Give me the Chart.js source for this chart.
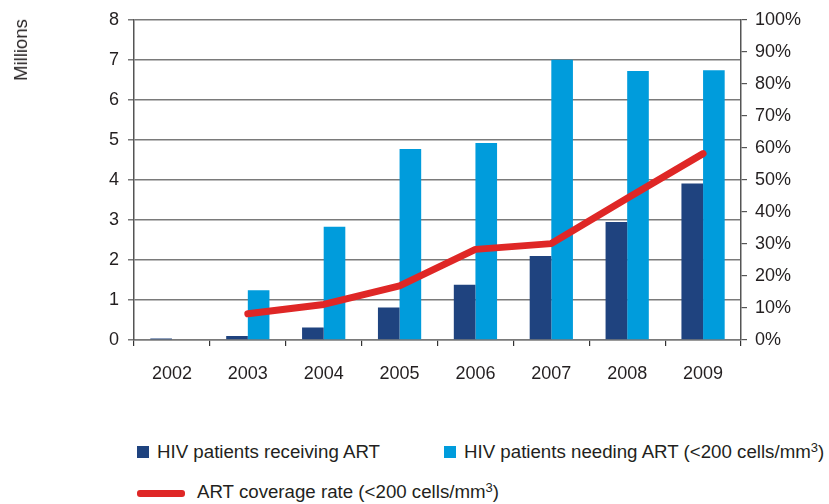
<!DOCTYPE html>
<html lang="en">
<head>
    <meta charset="UTF-8">
    <title>ART coverage</title>
    <style>
        body {
            margin: 0;
            padding: 0;
            background: white;
            font-family: "Liberation Sans", Arial, Helvetica, sans-serif;
            color: #231f20;
        }
        .wrap {
            position: relative;
            width: 829px;
            height: 504px;
        }
        .ytitle {
            position: absolute;
            left: 21px;
            top: 50px;
            transform: translate(-50%, -50%) rotate(-90deg);
            font-size: 18.5px;
            white-space: nowrap;
        }
        .legend {
            position: absolute;
            font-size: 18.7px;
            line-height: 20px;
            white-space: nowrap;
        }
        .box {
            display: inline-block;
            width: 12px;
            height: 12px;
            vertical-align: middle;
            margin-right: 8px;
            position: relative;
            top: -1px;
        }
        .redline {
            display: inline-block;
            width: 48px;
            height: 7px;
            border-radius: 3px;
            background: #df2726;
            vertical-align: middle;
            margin-right: 12px;
        }
        sup {
            font-size: 13px;
            line-height: 0;
            vertical-align: baseline;
            position: relative;
            top: -6px;
        }
    </style>
</head>
<body>
<div class="wrap">
    <canvas id="chart" width="829" height="400"></canvas>
    <div class="ytitle">Millions</div>
    <div class="legend" style="left:137px; top:442px;"><span class="box" style="background:#1f437f"></span>HIV patients receiving ART</div>
    <div class="legend" style="left:444px; top:442px;"><span class="box" style="background:#009cdc"></span>HIV patients needing ART (&lt;200 cells/mm<sup>3</sup>)</div>
    <div class="legend" style="left:137px; top:482px;"><span class="redline"></span>ART coverage rate (&lt;200 cells/mm<sup>3</sup>)</div>
</div>

<script src="https://cdn.jsdelivr.net/npm/chart.js"></script>
<script>
    // data
    const years = ["2002", "2003", "2004", "2005", "2006", "2007", "2008", "2009"];
    const receiving = [0.04, 0.1, 0.31, 0.81, 1.38, 2.1, 2.95, 3.91];
    const needing = [0, 1.24, 2.83, 4.77, 4.92, 7.0, 6.72, 6.74];
    const coverage = [null, 8.2, 11.1, 16.9, 28.3, 30.1, 44.3, 58.2];

    const gridColor = "#7a7a7a";
    const tickFont = { family: "'Liberation Sans', Arial", size: 18 };

    new Chart(document.getElementById("chart"), {
        data: {
            labels: years,
            datasets: [
                {
                    type: "line",
                    label: "ART coverage rate",
                    data: coverage,
                    yAxisID: "y1",
                    borderColor: "#df2726",
                    borderWidth: 7,
                    borderCapStyle: "round",
                    borderJoinStyle: "round",
                    pointRadius: 0,
                    tension: 0,
                    order: 0
                },
                {
                    type: "bar",
                    label: "HIV patients receiving ART",
                    data: receiving,
                    yAxisID: "y",
                    backgroundColor: "#1f437f",
                    categoryPercentage: 0.57,
                    barPercentage: 1,
                    order: 1
                },
                {
                    type: "bar",
                    label: "HIV patients needing ART",
                    data: needing,
                    yAxisID: "y",
                    backgroundColor: "#009cdc",
                    categoryPercentage: 0.57,
                    barPercentage: 1,
                    order: 1
                }
            ]
        },
        options: {
            responsive: false,
            animation: false,
            layout: { padding: { top: 19, left: 0, right: 0, bottom: 0 } },
            plugins: {
                legend: { display: false },
                tooltip: { enabled: false }
            },
            scales: {
                x: {
                    offset: true,
                    grid: {
                        offset: true,
                        drawOnChartArea: false,
                        color: "#333",
                        tickLength: 6,
                        lineWidth: 1.2
                    },
                    border: { color: gridColor, width: 1.5 },
                    ticks: { font: tickFont, color: "#231f20", padding: 17 },
                    afterFit: function (scale) { scale.height = 60; }
                },
                y: {
                    position: "left",
                    min: 0,
                    max: 8,
                    ticks: { stepSize: 1, font: tickFont, color: "#231f20", padding: 9 },
                    grid: { color: gridColor, lineWidth: 1.5, tickLength: 6 },
                    border: { color: "#555", width: 1.5 },
                    afterFit: function (scale) { scale.width = 134; }
                },
                y1: {
                    position: "right",
                    min: 0,
                    max: 100,
                    ticks: {
                        stepSize: 10,
                        font: tickFont,
                        color: "#231f20",
                        padding: 8,
                        callback: function (v) { return v + "%"; }
                    },
                    grid: { drawOnChartArea: false, color: "#555", tickLength: 6, lineWidth: 1.2 },
                    border: { color: "#555", width: 1.5 },
                    afterFit: function (scale) { scale.width = 829 - 741; }
                }
            }
        }
    });
</script>
</body>
</html>
